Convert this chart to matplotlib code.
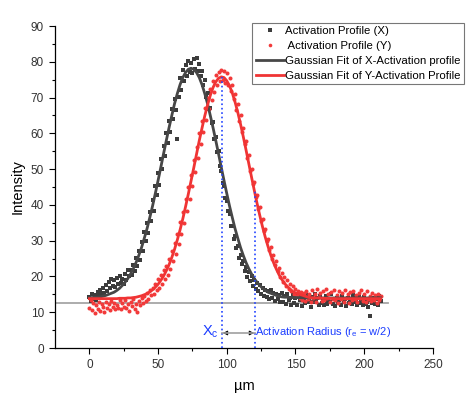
# activation profiles (X / Y) with gaussian fits
import numpy as np
import matplotlib.pyplot as plt

plt.rcParams['font.family'] = ['Liberation Sans', 'DejaVu Sans']
plt.rcParams['mathtext.fontset'] = 'custom'
plt.rcParams['mathtext.rm'] = 'Liberation Sans'

# measured points, one every 1 um from 0 to 212
pos_um = np.arange(0, 213)

prof_x = [
    14.2, 13.1, 15.0, 13.8, 14.9, 13.5, 15.6, 14.4, 16.2, 15.1,
    16.8, 15.3, 17.5, 16.0, 18.4, 16.7, 19.2, 17.4, 18.9, 17.0,
    19.6, 17.8, 20.1, 18.3, 19.4, 18.0, 20.6, 19.1, 21.8, 20.2,
    21.9, 20.4, 23.1, 21.6, 25.2, 22.8, 27.0, 24.6, 29.5, 27.2,
    32.4, 29.8, 34.9, 32.1, 38.0, 35.6, 41.5, 38.4, 45.2, 42.8,
    48.9, 45.6, 52.7, 49.9, 56.4, 53.8, 60.1, 57.2, 63.5, 60.4,
    66.8, 63.9, 69.7, 66.5, 58.3, 70.2, 75.4, 72.1, 77.8, 74.6,
    79.2, 76.0, 80.1, 77.2, 79.6, 76.8, 80.7, 78.1, 81.0, 77.5,
    79.4, 75.9, 77.3, 73.6, 74.8, 70.3, 71.4, 66.8, 67.2, 62.9,
    63.1, 58.4, 59.0, 54.7, 55.2, 50.8, 49.6, 46.1, 45.3, 41.8,
    41.0, 38.2, 37.4, 34.1, 34.0, 30.6, 31.2, 28.0, 28.5, 25.3,
    26.1, 23.4, 24.2, 21.5, 22.6, 19.8, 21.3, 18.6, 20.1, 17.2,
    19.0, 16.4, 18.2, 15.9, 17.6, 15.1, 16.8, 14.6, 16.3, 14.2,
    15.9, 13.8, 16.1, 14.0, 15.5, 13.2, 15.2, 13.6, 14.9, 12.8,
    15.3, 13.0, 14.4, 12.4, 15.0, 13.3, 14.1, 11.9, 14.7, 12.7,
    13.9, 12.1, 15.1, 13.4, 14.3, 11.8, 13.6, 12.5, 14.8, 12.9,
    13.5, 11.6, 14.2, 12.8, 15.0, 13.1, 13.9, 12.0, 14.6, 12.6,
    13.7, 11.9, 14.4, 12.3, 13.5, 12.9, 15.2, 12.4, 13.8, 11.7,
    14.1, 12.6, 13.3, 12.0, 14.5, 12.8, 13.6, 11.8, 14.0, 12.5,
    13.4, 12.2, 14.7, 12.9, 13.2, 11.9, 14.3, 12.7, 13.5, 12.1,
    14.2, 12.4, 13.0, 11.6, 8.9, 13.3, 12.5, 14.1, 12.2, 13.6,
    12.0, 14.4, 13.2,
]

prof_y = [
    11.2, 13.4, 10.5, 12.6, 9.9, 12.1, 11.0, 13.0, 10.3, 12.4,
    11.5, 10.2, 12.9, 11.1, 12.2, 10.6, 13.1, 11.4, 12.5, 10.8,
    12.0, 11.3, 13.3, 10.9, 12.7, 11.6, 13.5, 11.2, 12.3, 10.4,
    12.8, 11.7, 13.6, 11.0, 12.4, 10.1, 13.2, 12.0, 14.1, 12.6,
    14.6, 13.2, 15.4, 13.8, 16.3, 14.7, 16.9, 15.2, 18.0, 16.1,
    19.3, 16.9, 20.4, 18.0, 21.8, 19.2, 23.0, 20.5, 24.9, 22.1,
    27.0, 24.2, 29.3, 26.4, 31.9, 29.0, 35.1, 31.8, 37.9, 35.0,
    41.6, 38.3, 44.9, 41.7, 48.5, 45.4, 52.6, 49.3, 56.1, 53.0,
    60.2, 56.9, 63.4, 60.5, 67.0, 63.8, 69.9, 66.7, 72.3, 69.4,
    74.5, 71.6, 76.3, 73.4, 77.2, 74.5, 77.8, 74.9, 77.5, 74.2,
    76.8, 73.6, 75.4, 71.9, 73.5, 69.7, 71.0, 66.6, 68.2, 63.5,
    65.0, 60.4, 61.5, 57.0, 57.8, 53.2, 54.0, 49.5, 50.1, 45.9,
    46.4, 42.3, 42.8, 38.9, 39.5, 35.4, 36.2, 32.6, 33.3, 29.8,
    30.6, 27.5, 28.2, 25.0, 26.1, 23.2, 24.3, 21.4, 22.5, 19.9,
    21.0, 18.5, 19.8, 17.4, 18.9, 16.6, 18.0, 15.8, 17.3, 15.1,
    16.6, 14.4, 16.0, 13.9, 15.7, 13.5, 15.4, 13.2, 15.9, 13.6,
    15.1, 13.0, 16.2, 13.9, 15.0, 12.8, 16.4, 14.2, 15.3, 13.1,
    15.8, 13.5, 16.6, 14.0, 15.2, 12.9, 15.7, 13.7, 16.1, 13.3,
    14.8, 12.7, 15.9, 13.8, 15.4, 13.0, 16.3, 14.1, 15.0, 12.6,
    15.6, 13.4, 16.0, 13.7, 14.9, 12.8, 15.5, 13.9, 16.2, 13.2,
    15.1, 12.9, 15.8, 13.6, 14.6, 13.1, 15.3, 13.5, 14.8, 12.7,
    15.2, 13.4, 14.5,
]

# gaussian fit curves
fit_um = list(range(0, 152, 2)) + [160, 170, 180, 190, 200, 212]
fit_x = [
    14.1, 14.1, 14.2, 14.2, 14.3, 14.5, 14.7, 15.0, 15.3, 15.6,
    16.1, 16.7, 17.5, 18.4, 19.4, 20.7, 22.2, 23.9, 25.9, 28.1,
    30.7, 33.4, 36.5, 39.7, 43.2, 46.8, 50.5, 54.3, 58.0, 61.6,
    65.0, 68.3, 71.1, 73.6, 75.6, 77.0, 77.9, 78.2, 77.9, 77.0,
    75.6, 73.6, 71.1, 68.3, 65.0, 61.6, 58.0, 54.3, 50.5, 46.8,
    43.2, 39.7, 36.5, 33.4, 30.7, 28.1, 25.9, 23.9, 22.2, 20.7,
    19.4, 18.4, 17.5, 16.7, 16.1, 15.6, 15.3, 15.0, 14.7, 14.5,
    14.3, 14.2, 14.2, 14.1, 14.1, 14.1,
    14.0, 14.0, 14.0, 14.0, 14.0, 14.0,
]
fit_y = [
    13.8, 13.8, 13.8, 13.8, 13.8, 13.8, 13.8, 13.8, 13.8, 13.8,
    13.8, 13.9, 13.9, 13.9, 14.0, 14.0, 14.1, 14.2, 14.4, 14.6,
    14.9, 15.2, 15.7, 16.3, 17.0, 17.8, 18.9, 20.1, 21.6, 23.3,
    25.3, 27.6, 30.2, 33.0, 36.1, 39.5, 43.0, 46.7, 50.4, 54.2,
    58.0, 61.5, 64.9, 67.9, 70.6, 72.8, 74.4, 75.4, 75.8, 75.6,
    74.7, 73.3, 71.3, 68.8, 65.9, 62.6, 59.1, 55.4, 51.6, 47.8,
    44.1, 40.5, 37.1, 33.9, 31.0, 28.4, 26.0, 23.9, 22.1, 20.5,
    19.2, 18.1, 17.2, 16.5, 15.8, 15.4,
    14.1, 13.9, 13.8, 13.8, 13.8, 13.8,
]

# annotation values
baseline = 12.6
baseline_end = 217
x_c = 96.7
y_c = 75.8
x_r = 120.3
y_r = 44.5
arrow_y = 4.2

fig = plt.figure(figsize=(4.66, 3.97), dpi=100)
ax = fig.add_axes([0.118, 0.1234, 0.811, 0.811])

ax.plot([-25, baseline_end], [baseline, baseline], color='#a6a6a6', lw=1.3, zorder=1)

ax.plot(pos_um, prof_x, ls='none', marker='s', ms=2.7, mew=0, color='#3c3c3c',
        label='Activation Profile (X)', zorder=2)
ax.plot(pos_um, prof_y, ls='none', marker='o', ms=2.9, mew=0, color='#f23a3a',
        label=' Activation Profile (Y)', zorder=3)
ax.plot(fit_um, fit_x, color='#474747', lw=2.0, label='Gaussian Fit of X-Activation profile', zorder=4)
ax.plot(fit_um, fit_y, color='#f03434', lw=2.0, label='Gaussian Fit of Y-Activation Profile', zorder=5)

# radius markers
ax.plot([x_c, x_c], [0, y_c], color='#2244ff', ls=':', lw=1.2, zorder=6)
ax.plot([x_r, x_r], [0, y_r], color='#2244ff', ls=':', lw=1.2, zorder=6)
ax.plot([x_c, x_r], [arrow_y, arrow_y], color='#a0a0a0', lw=1.2, zorder=6)
ax.annotate('', xy=(x_c + 0.5, arrow_y), xytext=(x_c + 4, arrow_y),
            arrowprops=dict(arrowstyle='-|>', color='black', lw=0.6, mutation_scale=7))
ax.annotate('', xy=(x_r - 0.5, arrow_y), xytext=(x_r - 4, arrow_y),
            arrowprops=dict(arrowstyle='-|>', color='black', lw=0.6, mutation_scale=7))
ax.text(x_c - 2.5, arrow_y + 0.3, r'X$_\mathregular{c}$', color='#1a3cff', fontsize=10.5,
        ha='right', va='center')
ax.text(x_r + 0.4, arrow_y + 0.3, r'Activation Radius (r$_\mathregular{e}$ = w/2)', color='#1a3cff',
        fontsize=8, ha='left', va='center')

ax.set_xlim(-25, 250)
ax.set_ylim(0, 90)
ax.set_xticks(np.arange(0, 251, 50))
ax.set_xticks(np.arange(25, 251, 50), minor=True)
ax.set_yticks(np.arange(0, 91, 10))
ax.set_yticks(np.arange(5, 90, 10), minor=True)
ax.tick_params(which='major', direction='out', length=4.5, width=0.8, labelsize=8.5, colors='black')
ax.tick_params(which='minor', direction='out', length=2.5, width=0.8)
ax.tick_params(axis='both', labelcolor='#333333')
ax.spines['top'].set_visible(False)
ax.spines['right'].set_visible(False)
ax.spines['left'].set_linewidth(0.9)
ax.spines['bottom'].set_linewidth(0.9)

ax.set_xlabel('µm', fontsize=10.5, labelpad=6)
ax.set_ylabel('Intensity', fontsize=10.5, labelpad=4)

leg = fig.legend(loc='upper left', bbox_to_anchor=(0.541, 0.942), fontsize=8.2, frameon=True,
                 fancybox=False, edgecolor='#777777', framealpha=1, borderpad=0.3,
                 handlelength=2.5, handletextpad=0.1, labelspacing=0.42, borderaxespad=0,
                 markerscale=0.9)
leg.get_frame().set_linewidth(0.8)

fig.savefig('out.png', dpi=100)
